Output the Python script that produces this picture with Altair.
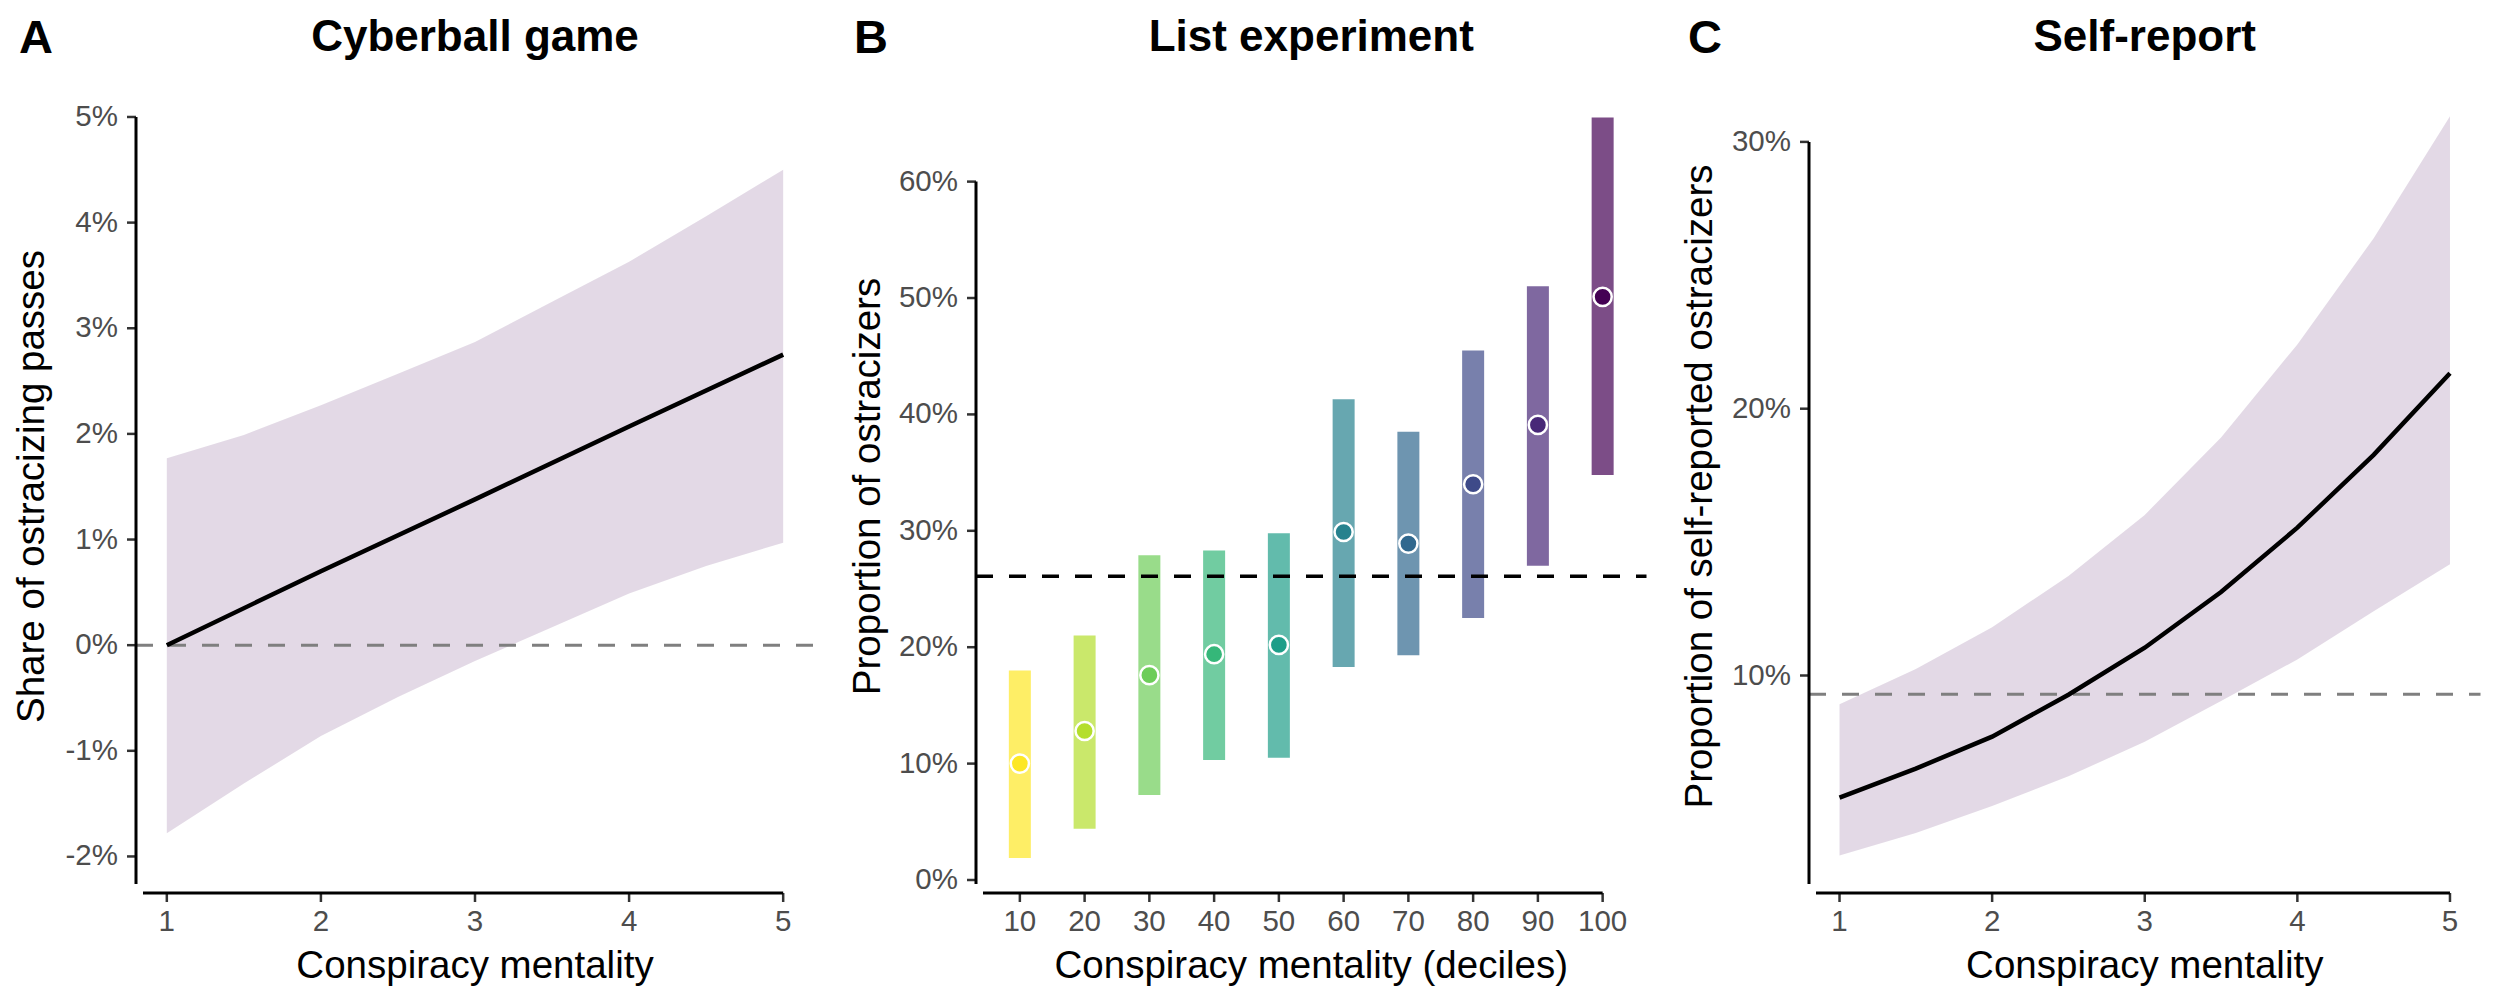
import altair as alt
import pandas as pd

FONT = "Liberation Sans"

# ---------------- data ----------------
# Panel A: Cyberball game
a_x = [1, 2, 3, 4, 5]
a_fit = [0.00, 0.70, 1.38, 2.07, 2.75]
a_band_x = [1, 1.5, 2, 2.5, 3, 3.5, 4, 4.5, 5]
a_upper = [1.77, 1.99, 2.27, 2.57, 2.87, 3.25, 3.63, 4.06, 4.50]
a_lower = [-1.78, -1.31, -0.86, -0.49, -0.15, 0.17, 0.49, 0.75, 0.97]
a_ref = 0.0
a_xticks = [1, 2, 3, 4, 5]
a_xlabels = ["1", "2", "3", "4", "5"]
a_yticks = [-2, -1, 0, 1, 2, 3, 4, 5]
a_ylabels = ["-2%", "-1%", "0%", "1%", "2%", "3%", "4%", "5%"]

# Panel B: List experiment
b_deciles = [10, 20, 30, 40, 50, 60, 70, 80, 90, 100]
b_xlabels = ["10", "20", "30", "40", "50", "60", "70", "80", "90", "100"]
b_est = [10.0, 12.8, 17.6, 19.4, 20.2, 29.9, 28.9, 34.0, 39.1, 50.1]
b_low = [1.9, 4.4, 7.3, 10.3, 10.5, 18.3, 19.3, 22.5, 27.0, 34.8]
b_high = [18.0, 21.0, 27.9, 28.3, 29.8, 41.3, 38.5, 45.5, 51.0, 65.5]
b_ref = 26.1
b_colors = ["#FDE725", "#B4DE2C", "#6DCD59", "#35B779", "#1F9E89",
            "#26828E", "#31688E", "#3E4A89", "#482878", "#440154"]
b_yticks = [0, 10, 20, 30, 40, 50, 60]
b_ylabels = ["0%", "10%", "20%", "30%", "40%", "50%", "60%"]

# Panel C: Self-report
c_x = [1, 1.5, 2, 2.5, 3, 3.5, 4, 4.5, 5]
c_fit = [5.42, 6.51, 7.71, 9.28, 11.04, 13.13, 15.54, 18.27, 21.33]
c_upper = [8.92, 10.24, 11.81, 13.73, 16.02, 18.92, 22.41, 26.39, 30.96]
c_lower = [3.25, 4.10, 5.11, 6.22, 7.52, 9.04, 10.60, 12.41, 14.17]
c_ref = 9.3
c_xticks = [1, 2, 3, 4, 5]
c_xlabels = ["1", "2", "3", "4", "5"]
c_yticks = [10, 20, 30]
c_ylabels = ["10%", "20%", "30%"]

# ---------------- layout ----------------
H = 813
WA, WB, WC = 678, 670.5, 671.5
BAND = "#440154"
TICK_FS = 29.5
AXT_FS = 38.5


def txt(s, x, y, size, weight="normal", angle=0, align="center", baseline="alphabetic"):
    return alt.Chart(pd.DataFrame({"t": [s]})).mark_text(
        font=FONT, fontSize=size, fontWeight=weight, angle=angle, align=align,
        baseline=baseline, color="black"
    ).encode(text="t:N", x=alt.value(x), y=alt.value(y))


def axes_layers(W, xs, ys, xticks, xlabels, yticks, ylabels, ycap, xcap):
    dfx = pd.DataFrame({"v": xticks, "lab": xlabels})
    dfy = pd.DataFrame({"v": yticks, "lab": ylabels})
    xt = alt.Chart(dfx).mark_rule(color="#333333", strokeWidth=2.5).encode(
        x=alt.X("v:Q", scale=xs, axis=None), y=alt.value(H), y2=alt.value(H + 9))
    xl = alt.Chart(dfx).mark_text(font=FONT, fontSize=TICK_FS, color="#4D4D4D",
                                  align="center", baseline="top").encode(
        x=alt.X("v:Q", scale=xs, axis=None), y=alt.value(H + 15), text="lab:N")
    yt = alt.Chart(dfy).mark_rule(color="#333333", strokeWidth=2.5).encode(
        y=alt.Y("v:Q", scale=ys, axis=None), x=alt.value(0), x2=alt.value(-9))
    yl = alt.Chart(dfy).mark_text(font=FONT, fontSize=TICK_FS, color="#4D4D4D",
                                  align="right", baseline="middle").encode(
        y=alt.Y("v:Q", scale=ys, axis=None), x=alt.value(-18), text="lab:N")
    yline = alt.Chart(pd.DataFrame({"v": [ycap]})).mark_rule(
        color="black", strokeWidth=3
    ).encode(y=alt.Y("v:Q", scale=ys, axis=None), y2=alt.value(H - 9), x=alt.value(0))
    xline = alt.Chart(pd.DataFrame({"v": [xcap]})).mark_rule(
        color="black", strokeWidth=3
    ).encode(x=alt.X("v:Q", scale=xs, axis=None), x2=alt.value(7), y=alt.value(H))
    return [xt, xl, yt, yl, yline, xline]


def ref_line(W, ys, ref, color, width):
    return alt.Chart(pd.DataFrame({"v": [ref]})).mark_rule(
        color=color, strokeWidth=width, strokeDash=[17, 16]
    ).encode(y=alt.Y("v:Q", scale=ys, axis=None), x=alt.value(0), x2=alt.value(W))


def texts(W, letter, letter_dx, title, ytitle, ytitle_dx, xtitle):
    return [
        txt(letter, letter_dx, -27, 47, weight="bold", align="left"),
        txt(title, W / 2, -29, 44, weight="bold"),
        txt(ytitle, ytitle_dx, H / 2, AXT_FS, angle=270, baseline="middle"),
        txt(xtitle, W / 2, H + 85, AXT_FS),
    ]


# ---------------- Panel A ----------------
xsA = alt.Scale(domain=[0.8, 5.2], nice=False, zero=False)
ysA = alt.Scale(domain=[-2.346, 5.35], nice=False, zero=False)
dfA_band = pd.DataFrame({"x": a_band_x, "lo": a_lower, "hi": a_upper})
dfA_line = pd.DataFrame({"x": a_x, "y": a_fit})

bandA = alt.Chart(dfA_band).mark_area(color=BAND, opacity=0.15).encode(
    x=alt.X("x:Q", scale=xsA, axis=None),
    y=alt.Y("lo:Q", scale=ysA, axis=None),
    y2="hi:Q",
)
lineA = alt.Chart(dfA_line).mark_line(color="black", strokeWidth=4.5).encode(
    x=alt.X("x:Q", scale=xsA, axis=None),
    y=alt.Y("y:Q", scale=ysA, axis=None),
)
anchor = alt.Chart(pd.DataFrame({"t": [0]})).mark_rule(opacity=0, strokeWidth=1).encode(
    x=alt.value(-128), x2=alt.value(-128), y=alt.value(-72), y2=alt.value(-71)
)
pA = alt.layer(
    bandA, ref_line(WA, ysA, a_ref, "#7F7F7F", 3), lineA,
    *axes_layers(WA, xsA, ysA, a_xticks, a_xlabels, a_yticks, a_ylabels, 5, 5),
    *texts(WA, "A", -117, "Cyberball game", "Share of ostracizing passes", -104,
           "Conspiracy mentality"),
    anchor,
).properties(width=WA, height=H)

# ---------------- Panel B ----------------
xsB = alt.Scale(domain=[4, 106], nice=False, zero=False)
ysB = alt.Scale(domain=[-1.117, 68.73], nice=False, zero=False)
dfB = pd.DataFrame({"dec": b_deciles, "est": b_est, "lo": b_low, "hi": b_high})
colB = alt.Color("dec:O", scale=alt.Scale(domain=b_deciles, range=b_colors), legend=None)

barsB = alt.Chart(dfB).mark_bar(size=22, opacity=0.7).encode(
    x=alt.X("dec:Q", scale=xsB, axis=None),
    y=alt.Y("lo:Q", scale=ysB, axis=None),
    y2="hi:Q",
    color=colB,
)
ptsB = alt.Chart(dfB).mark_circle(size=330, opacity=1, stroke="white", strokeWidth=2.5).encode(
    x=alt.X("dec:Q", scale=xsB, axis=None),
    y=alt.Y("est:Q", scale=ysB, axis=None),
    color=colB,
)
pB = alt.layer(
    barsB, ref_line(WB, ysB, b_ref, "black", 3.5), ptsB,
    *axes_layers(WB, xsB, ysB, b_deciles, b_xlabels, b_yticks, b_ylabels, 60, 100),
    *texts(WB, "B", -122, "List experiment", "Proportion of ostracizers", -108,
           "Conspiracy mentality (deciles)"),
).properties(width=WB, height=H)

# ---------------- Panel C ----------------
xsC = alt.Scale(domain=[0.8, 5.2], nice=False, zero=False)
ysC = alt.Scale(domain=[1.848, 32.32], nice=False, zero=False)
dfC = pd.DataFrame({"x": c_x, "lo": c_lower, "hi": c_upper, "y": c_fit})

bandC = alt.Chart(dfC).mark_area(color=BAND, opacity=0.15).encode(
    x=alt.X("x:Q", scale=xsC, axis=None),
    y=alt.Y("lo:Q", scale=ysC, axis=None),
    y2="hi:Q",
)
lineC = alt.Chart(dfC).mark_line(color="black", strokeWidth=4.5).encode(
    x=alt.X("x:Q", scale=xsC, axis=None),
    y=alt.Y("y:Q", scale=ysC, axis=None),
)
pC = alt.layer(
    bandC, ref_line(WC, ysC, c_ref, "#7F7F7F", 3), lineC,
    *axes_layers(WC, xsC, ysC, c_xticks, c_xlabels, c_yticks, c_ylabels, 30, 5),
    *texts(WC, "C", -121, "Self-report", "Proportion of self-reported ostracizers", -109,
           "Conspiracy mentality"),
).properties(width=WC, height=H)

chart = alt.hconcat(pA, pB, pC, spacing=162, bounds="flush").properties(
    padding=0, background="white"
).configure_view(strokeWidth=0)

chart.save("out.html", embed_options={"renderer": "svg", "actions": False})
